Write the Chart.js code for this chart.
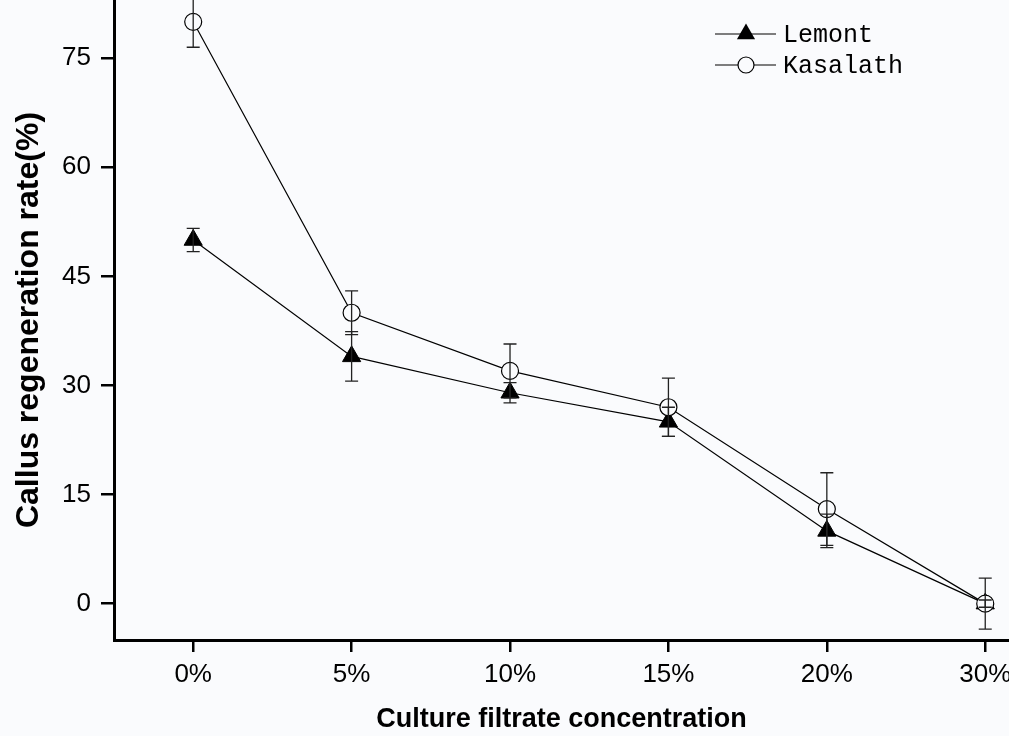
<!DOCTYPE html>
<html>
<head>
<meta charset="utf-8">
<script src="https://cdn.jsdelivr.net/npm/chart.js@4/dist/chart.umd.min.js"></script>
<style>
  html, body { margin: 0; padding: 0; background: #fafbfd; overflow: hidden; }
  #wrap { width: 1009px; height: 736px; position: relative; }
</style>
</head>
<body>
<div id="wrap"><canvas id="myChart"></canvas></div>
<script>
// chart data
var xLabels = ['0%', '5%', '10%', '15%', '20%', '30%'];
var yTicks = [0, 15, 30, 45, 60, 75];
var lemont = [50, 34, 29, 25, 10, 0];
var lemontErr = [1.6, 3.4, 1.4, 2.0, 2.3, 0.5];
var kasalath = [80, 40, 32, 27, 13, 0];
var kasalathErr = [3.5, 3.0, 3.7, 4.0, 5.0, 3.5];

var bg = '#fafbfd';

function toPoints(arr){
  return arr.map(function(v, i){ return {x: i, y: v}; });
}

// error bars drawn on top, through the markers
var errorBars = {
  id: 'errorBars',
  afterDatasetsDraw: function(chart){
    var ctx = chart.ctx;
    var xs = chart.scales.x, ys = chart.scales.y;
    var area = chart.chartArea;
    var sets = [[lemont, lemontErr], [kasalath, kasalathErr]];
    ctx.save();
    ctx.beginPath();
    ctx.rect(area.left, area.top, area.right - area.left, area.bottom - area.top);
    ctx.clip();
    ctx.strokeStyle = '#222';
    ctx.lineWidth = 1.3;
    sets.forEach(function(s){
      s[0].forEach(function(v, i){
        var x = xs.getPixelForValue(i);
        var top = ys.getPixelForValue(v + s[1][i]);
        var bot = ys.getPixelForValue(v - s[1][i]);
        ctx.beginPath();
        ctx.moveTo(x, top); ctx.lineTo(x, bot);
        ctx.moveTo(x - 6.5, top); ctx.lineTo(x + 6.5, top);
        ctx.moveTo(x - 6.5, bot); ctx.lineTo(x + 6.5, bot);
        ctx.stroke();
      });
    });
    ctx.restore();
  }
};

// legend with line + marker, like the original
var lineLegend = {
  id: 'lineLegend',
  afterDraw: function(chart){
    var ctx = chart.ctx;
    var items = [
      {label: 'Lemont', y: 34, style: 'triangle'},
      {label: 'Kasalath', y: 65, style: 'circle'}
    ];
    ctx.save();
    items.forEach(function(it){
      ctx.strokeStyle = '#000';
      ctx.lineWidth = 1.2;
      ctx.beginPath();
      ctx.moveTo(715, it.y); ctx.lineTo(776, it.y);
      ctx.stroke();
      var cx = 746;
      if (it.style == 'triangle') {
        var r = 10.5;
        ctx.fillStyle = '#000';
        ctx.beginPath();
        ctx.moveTo(cx, it.y - r);
        ctx.lineTo(cx + r * 0.866, it.y + r / 2);
        ctx.lineTo(cx - r * 0.866, it.y + r / 2);
        ctx.closePath();
        ctx.fill();
      } else {
        ctx.fillStyle = bg;
        ctx.beginPath();
        ctx.arc(cx, it.y, 8, 0, Math.PI * 2);
        ctx.fill();
        ctx.stroke();
      }
      ctx.fillStyle = '#000';
      ctx.font = '25px "Liberation Mono"';
      ctx.textBaseline = 'middle';
      ctx.textAlign = 'left';
      ctx.fillText(it.label, 783, it.y + 1);
    });
    ctx.restore();
  }
};

var canvasBg = {
  id: 'canvasBg',
  beforeDraw: function(chart){
    var ctx = chart.ctx;
    ctx.save();
    ctx.fillStyle = bg;
    ctx.fillRect(0, 0, chart.width, chart.height);
    ctx.restore();
  }
};

function init(){
  var ctx = document.getElementById('myChart').getContext('2d');
  var myChart = new Chart(ctx, {
    type: 'line',
    data: {
      datasets: [
        {
          label: 'Kasalath',
          data: toPoints(kasalath),
          borderColor: '#000',
          borderWidth: 1.2,
          backgroundColor: bg,
          pointStyle: 'circle',
          pointRadius: 8.5,
          pointBorderWidth: 1.2,
          pointBorderColor: '#000',
          pointBackgroundColor: bg,
          tension: 0,
          clip: false,
          order: 0
        },
        {
          label: 'Lemont',
          data: toPoints(lemont),
          borderColor: '#000',
          borderWidth: 1.2,
          backgroundColor: '#000',
          pointStyle: 'triangle',
          pointRadius: 10.5,
          pointBorderWidth: 1,
          pointBorderColor: '#000',
          pointBackgroundColor: '#000',
          tension: 0,
          clip: false,
          order: 1
        }
      ]
    },
    options: {
      responsive: false,
      animation: false,
      layout: { padding: 0, autoPadding: false },
      plugins: {
        legend: { display: false },
        tooltip: { enabled: false }
      },
      scales: {
        x: {
          type: 'linear',
          min: -0.5,
          max: 5.15,
          afterBuildTicks: function(scale){
            scale.ticks = xLabels.map(function(l, i){ return {value: i}; });
          },
          afterFit: function(scale){
            scale.height = 96;
            scale.paddingLeft = 0;
            scale.paddingRight = 0;
          },
          ticks: {
            autoSkip: false,
            maxRotation: 0,
            padding: 7,
            color: '#000',
            font: { family: '"Liberation Sans", Arial', size: 26 },
            callback: function(value){ return xLabels[value]; }
          },
          grid: { drawOnChartArea: false, drawTicks: true, tickLength: 12, color: '#000', lineWidth: 2.5 },
          border: { display: true, color: '#000', width: 3 },
          title: {
            display: true,
            text: 'Culture filtrate concentration',
            color: '#000',
            font: { family: '"Liberation Sans", Arial', size: 27, weight: 'bold' },
            padding: { top: 10, bottom: 0 }
          }
        },
        y: {
          min: -5,
          max: 83,
          afterBuildTicks: function(scale){
            scale.ticks = yTicks.map(function(v){ return {value: v}; });
          },
          afterFit: function(scale){
            scale.width = 114;
            scale.paddingTop = 0;
            scale.paddingBottom = 0;
          },
          ticks: {
            padding: 10,
            color: '#000',
            font: { family: '"Liberation Sans", Arial', size: 26 }
          },
          grid: { drawOnChartArea: false, drawTicks: true, tickLength: 13, color: '#000', lineWidth: 2.5 },
          border: { display: true, color: '#000', width: 3 },
          title: {
            display: true,
            text: 'Callus regeneration rate(%)',
            color: '#000',
            font: { family: '"Liberation Sans", Arial', size: 32, weight: 'bold' },
            padding: { top: 10, bottom: 0 }
          }
        }
      }
    },
    plugins: [canvasBg, errorBars, lineLegend]
  });
}

var cv = document.getElementById('myChart');
cv.width = 1009;
cv.height = 736;
cv.style.width = '1009px';
cv.style.height = '736px';
init();
</script>
</body>
</html>
